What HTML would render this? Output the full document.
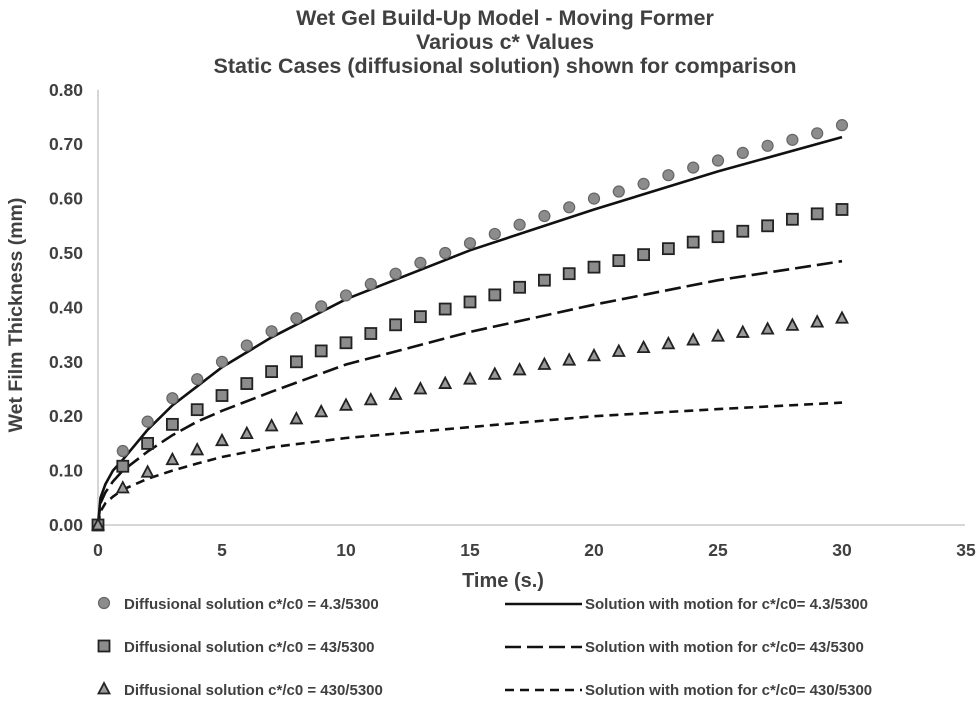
<!DOCTYPE html>
<html><head><meta charset="utf-8"><style>
body{margin:0;background:#fff;}
svg text{font-family:"Liberation Sans",Arial,sans-serif;font-weight:bold;fill:#404040;}
</style></head><body>
<svg id="chart" width="980" height="709" xmlns="http://www.w3.org/2000/svg">
<g>
<text x="505" y="25" text-anchor="middle" font-size="21.5">Wet Gel Build-Up Model - Moving Former</text>
<text x="505" y="49" text-anchor="middle" font-size="21.5">Various c* Values</text>
<text x="505" y="73" text-anchor="middle" font-size="21.5">Static Cases (diffusional solution) shown for comparison</text>
</g>
<g id="axes"></g>
<g id="series"></g>
<text x="503" y="587" text-anchor="middle" font-size="20">Time (s.)</text>
<text transform="translate(22,315) rotate(-90)" text-anchor="middle" font-size="19.5">Wet Film Thickness (mm)</text>
<g id="legend"></g>
</svg>
<script>
const xTicks=[0,5,10,15,20,25,30,35];
const yTicks=[0,0.1,0.2,0.3,0.4,0.5,0.6,0.7,0.8];
const tPts=[0,1,2,3,4,5,6,7,8,9,10,11,12,13,14,15,16,17,18,19,20,21,22,23,24,25,26,27,28,29,30];
const circ=[0,0.136,0.19,0.233,0.268,0.30,0.33,0.356,0.38,0.402,0.422,0.443,0.462,0.482,0.50,0.518,0.535,0.552,0.568,0.584,0.60,0.613,0.627,0.643,0.657,0.67,0.684,0.697,0.708,0.72,0.735];
const sq=[0,0.108,0.15,0.185,0.212,0.238,0.26,0.282,0.30,0.32,0.335,0.352,0.368,0.383,0.397,0.41,0.423,0.437,0.45,0.462,0.474,0.486,0.497,0.508,0.52,0.53,0.54,0.55,0.562,0.572,0.58];
const tri=[0,0.068,0.097,0.12,0.138,0.155,0.168,0.182,0.195,0.208,0.22,0.23,0.24,0.25,0.26,0.268,0.277,0.285,0.295,0.303,0.311,0.319,0.326,0.333,0.34,0.347,0.354,0.36,0.367,0.373,0.38];
const tLine=[0,0.1,0.3,0.6,1,2,3,4,5,7,10,15,20,25,30];
const mot1=[0,0.05,0.075,0.1,0.12,0.175,0.22,0.255,0.29,0.345,0.415,0.505,0.58,0.65,0.713];
const mot2=[0,0.04,0.06,0.08,0.10,0.135,0.165,0.19,0.21,0.245,0.295,0.355,0.405,0.45,0.485];
const mot3=[0,0.025,0.04,0.052,0.065,0.085,0.10,0.113,0.125,0.143,0.16,0.18,0.2,0.213,0.225];
const X0=98,XS=24.8,Y0=525,YS=544;
const xs=v=>X0+v*XS, ys=v=>Y0-v*YS;
const NS="http://www.w3.org/2000/svg";
function mk(tag,attrs,parent){const e=document.createElementNS(NS,tag);for(const k in attrs)e.setAttribute(k,attrs[k]);parent.appendChild(e);return e;}
const axes=document.getElementById('axes');
let yl=mk('line',{x1:X0,y1:ys(0.8),x2:X0,y2:Y0,stroke:'#c8c8c8','stroke-width':1.5},axes);


let xl=mk('line',{x1:X0,y1:Y0,x2:965,y2:Y0,stroke:'#c8c8c8','stroke-width':1.5},axes);


xTicks.forEach(v=>{const t=mk('text',{x:xs(v),y:556,'text-anchor':'middle','font-size':17.5},axes);t.textContent=v;

});
yTicks.forEach(v=>{const t=mk('text',{x:83,y:ys(v)+6,'text-anchor':'end','font-size':17.5},axes);t.textContent=v.toFixed(2);

});
const ser=document.getElementById('series');
function path(tt,vals,dash,name){const d=tt.map((t,i)=>(i?'L':'M')+xs(t).toFixed(1)+','+ys(vals[i]).toFixed(1)).join('');
const p=mk('path',{d:d,fill:'none',stroke:'#111','stroke-width':2.6,'stroke-dasharray':dash},ser);

}
path(tLine,mot1,'none','motion-line-4-3');
path(tLine,mot2,'16 6','motion-line-43');
path(tLine,mot3,'9 6','motion-line-430');
function marker(kind,cx,cy,par){let e;
if(kind==='c')e=mk('circle',{cx:cx,cy:cy,r:5.5,fill:'#8c8c8c',stroke:'#666','stroke-width':1.2},par);
else if(kind==='s')e=mk('rect',{x:cx-5.5,y:cy-5.5,width:11,height:11,fill:'#8c8c8c',stroke:'#222','stroke-width':1.8},par);
else e=mk('polygon',{points:`${cx},${cy-6} ${cx-5.5},${cy+4.5} ${cx+5.5},${cy+4.5}`,fill:'#9a9a9a',stroke:'#222','stroke-width':1.8},par);
return e;}
tPts.forEach((t,i)=>{let e=marker('c',xs(t),ys(circ[i]),ser);


e=marker('s',xs(t),ys(sq[i]),ser);


e=marker('t',xs(t),ys(tri[i]),ser);

});
const lg=document.getElementById('legend');
const leftLabels=['Diffusional solution c*/c0 = 4.3/5300','Diffusional solution c*/c0 = 43/5300','Diffusional solution c*/c0 = 430/5300'];
const rightLabels=['Solution with motion for c*/c0= 4.3/5300','Solution with motion for c*/c0= 43/5300','Solution with motion for c*/c0= 430/5300'];
const kinds=['c','s','t'],dashes=['none','16 6','9 6'],rowY=[609,652,695];
rowY.forEach((y,i)=>{const g=mk('g',{},lg);


marker(kinds[i],104,y-6,g);
let t=mk('text',{x:124,y:y,'font-size':15},g);t.textContent=leftLabels[i];
const g2=mk('g',{},lg);


mk('line',{x1:505,y1:y-5,x2:582,y2:y-5,stroke:'#111','stroke-width':2.6,'stroke-dasharray':dashes[i]},g2);
t=mk('text',{x:585,y:y,'font-size':15},g2);t.textContent=rightLabels[i];});
</script>
</body></html>
